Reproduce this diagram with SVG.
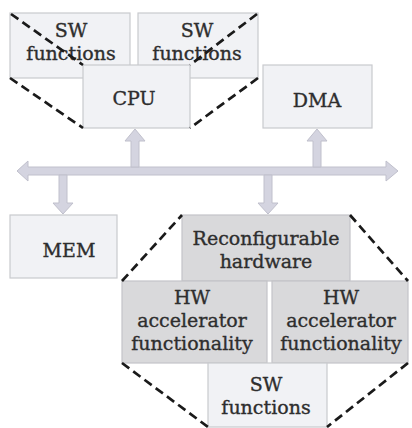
<svg xmlns="http://www.w3.org/2000/svg" width="412" height="428" viewBox="0 0 412 428">
<style>
.lt{fill:#f1f2f5;stroke:#c9cace;stroke-width:1.2}
.gr{fill:#d9d9db;stroke:#c4c4c8;stroke-width:1.2}
.t{font-family:"DejaVu Serif","Liberation Serif",serif;font-size:19px;fill:#2e2e2e;stroke:#2e2e2e;stroke-width:0.35;text-anchor:middle}
.dash{stroke:#1a1a1a;stroke-width:2.7;stroke-dasharray:9 5;fill:none}
.arr{fill:#d4d4e0;stroke:#c0c0cc;stroke-width:1}
</style>
<rect width="412" height="428" fill="#ffffff"/>
<g id="connectors">
<path class="arr" d="M17,171 L28,161 L28,167 L386,167 L386,161 L398,171 L386,181 L386,175 L28,175 L28,181 Z"/>
<path class="arr" d="M131,167 L131,141 L125,141 L135,129 L145,141 L139,141 L139,167 Z"/>
<path class="arr" d="M313,167 L313,141 L307,141 L317,129 L327,141 L321,141 L321,167 Z"/>
<path class="arr" d="M59,175 L59,203 L53,203 L63,214 L73,203 L67,203 L67,175 Z"/>
<path class="arr" d="M264,175 L264,203 L258,203 L268,214 L278,203 L272,203 L272,175 Z"/>
</g>
<g id="sw-top-1"><rect class="lt" x="10" y="13" width="120" height="65"/><text class="t" x="71" y="37">SW</text><text class="t" x="71" y="60">functions</text></g>
<g id="sw-top-2"><rect class="lt" x="138" y="13" width="120" height="65"/><text class="t" x="197" y="37">SW</text><text class="t" x="197" y="60">functions</text></g>
<g id="cpu"><rect class="lt" x="83" y="65" width="107" height="63"/><text class="t" x="134" y="105">CPU</text></g>
<g id="dma"><rect class="lt" x="263" y="65" width="109" height="63"/><text class="t" x="317" y="107">DMA</text></g>
<g id="mem"><rect class="lt" x="10" y="215" width="107" height="63"/><text class="t" x="69" y="257">MEM</text></g>
<g id="reconfigurable"><rect class="gr" x="182" y="215" width="168" height="66"/><text class="t" x="266" y="245">Reconfigurable</text><text class="t" x="266" y="268">hardware</text></g>
<g id="hw-1"><rect class="gr" x="122" y="281" width="145" height="82"/><text class="t" x="192" y="304">HW</text><text class="t" x="192" y="327">accelerator</text><text class="t" x="192" y="350">functionality</text></g>
<g id="hw-2"><rect class="gr" x="272" y="281" width="136" height="82"/><text class="t" x="341" y="304">HW</text><text class="t" x="341" y="327">accelerator</text><text class="t" x="341" y="350">functionality</text></g>
<g id="sw-bottom"><rect class="lt" x="208" y="363" width="119" height="64"/><text class="t" x="266" y="391">SW</text><text class="t" x="266" y="414">functions</text></g>
<g id="zoom-lines">
<line class="dash" x1="11" y1="14" x2="83" y2="65"/>
<line class="dash" x1="257" y1="14" x2="190" y2="65"/>
<line class="dash" x1="10" y1="78" x2="83" y2="128"/>
<line class="dash" x1="258" y1="78" x2="190" y2="128"/>
<line class="dash" x1="122" y1="281" x2="182" y2="215"/>
<line class="dash" x1="350" y1="215" x2="408" y2="281"/>
<line class="dash" x1="122" y1="363" x2="208" y2="427"/>
<line class="dash" x1="408" y1="363" x2="327" y2="427"/>
</g>
</svg>
